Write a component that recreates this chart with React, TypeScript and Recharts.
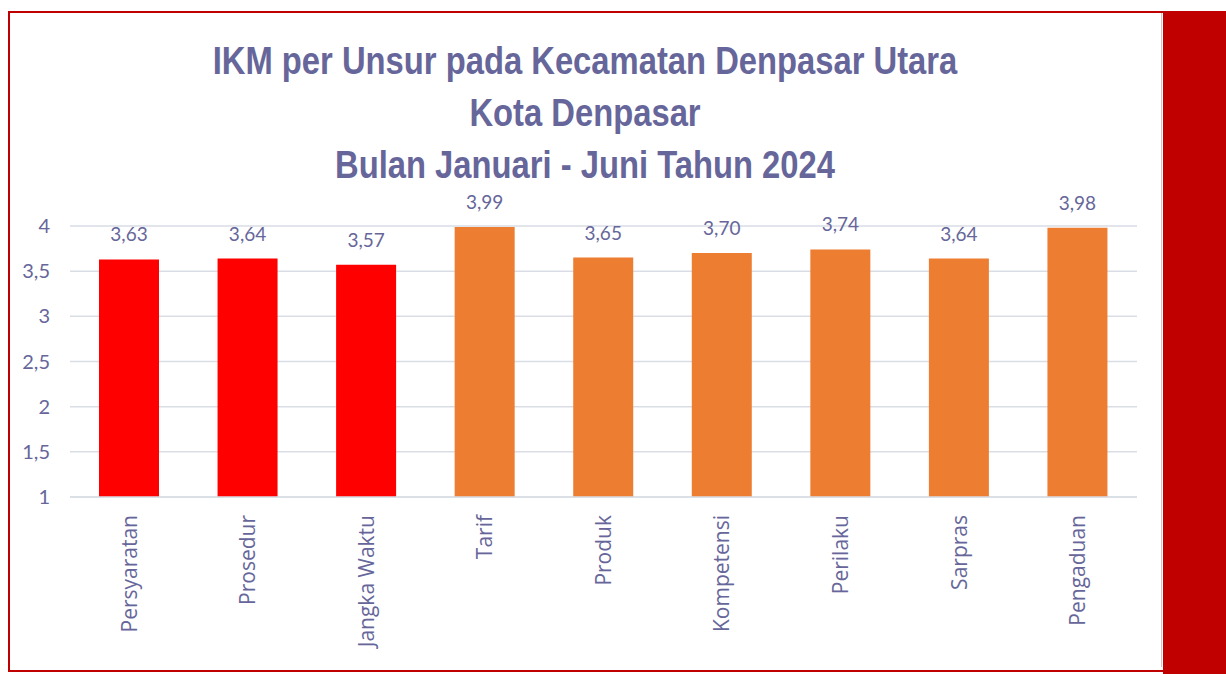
import { BarChart, Bar, XAxis, YAxis, CartesianGrid, LabelList, Cell } from "recharts";

const categories = [
  "Persyaratan",
  "Prosedur",
  "Jangka Waktu",
  "Tarif",
  "Produk",
  "Kompetensi",
  "Perilaku",
  "Sarpras",
  "Pengaduan",
];
const values = [3.63, 3.64, 3.57, 3.99, 3.65, 3.7, 3.74, 3.64, 3.98];
const barColors = ["#FF0000", "#FF0000", "#FF0000", "#ED7D31", "#ED7D31", "#ED7D31", "#ED7D31", "#ED7D31", "#ED7D31"];
const yTicks = [1, 1.5, 2, 2.5, 3, 3.5, 4];
const titleLines = [
  "IKM per Unsur pada Kecamatan Denpasar Utara",
  "Kota Denpasar",
  "Bulan Januari - Juni Tahun 2024",
];

const data = categories.map((name, i) => ({ name, value: values[i] }));

const textColor = "#66669A";
const font = "Lato, 'Open Sans', sans-serif";

const comma = (v: number, digits?: number) =>
  (digits === undefined ? String(v) : v.toFixed(digits)).replace(".", ",");

const CategoryTick = (props: any) => {
  const { x, y, payload } = props;
  return (
    <g transform={`translate(${x},${y + 10})`}>
      <text
        transform="rotate(-90)"
        textAnchor="end"
        dy="0.35em"
        fill={textColor}
        fontSize={21}
        fontFamily="'Open Sans', sans-serif"
      >
        {payload.value}
      </text>
    </g>
  );
};

export default function App() {
  return (
    <div style={{ position: "absolute", left: 0, top: 0, width: 1226, height: 674, background: "#fff" }}>
      <div
        style={{
          position: "absolute",
          left: 8,
          top: 11,
          width: 1214,
          height: 657,
          border: "2px solid #C00000",
        }}
      />
      <div
        style={{
          position: "absolute",
          left: 1161,
          top: 13,
          width: 1,
          height: 654,
          background: "#C8C8C8",
        }}
      />
      <div
        style={{
          position: "absolute",
          left: 1163,
          top: 11,
          width: 63,
          height: 663,
          background: "#C00000",
        }}
      />
      <div
        style={{
          position: "absolute",
          left: 0,
          top: 35,
          width: 1170,
          textAlign: "center",
          color: textColor,
          fontFamily: "'Liberation Sans', sans-serif",
          fontWeight: "bold",
          fontSize: 39,
          lineHeight: "52px",
          transform: "scaleX(0.84)",
          transformOrigin: "585px 0",
        }}
      >
        {titleLines.map((t) => (
          <div key={t}>{t}</div>
        ))}
      </div>
      <div style={{ position: "absolute", left: 0, top: 0 }}>
        <BarChart
          width={1160}
          height={670}
          data={data}
          margin={{ top: 226, right: 23, bottom: 143, left: 0 }}
          barCategoryGap={0}
        >
          <CartesianGrid vertical={false} stroke="#D9DEE6" strokeWidth={1.5} />
          <XAxis
            dataKey="name"
            interval={0}
            height={30}
            axisLine={{ stroke: "#D9DEE6", strokeWidth: 1.5 }}
            tickLine={false}
            tick={<CategoryTick />}
          />
          <YAxis
            width={70}
            domain={[1, 4]}
            ticks={yTicks}
            allowDataOverflow
            axisLine={false}
            tickLine={false}
            tickSize={0}
            tickMargin={20}
            tickFormatter={(v: number) => comma(v)}
            tick={{ fill: textColor, fontSize: 20, fontFamily: font }}
          />
          <Bar dataKey="value" barSize={60} isAnimationActive={false}>
            {data.map((d, i) => (
              <Cell key={d.name} fill={barColors[i]} />
            ))}
            <LabelList
              dataKey="value"
              position="top"
              offset={18}
              formatter={(v: any) => comma(Number(v), 2)}
              fill={textColor}
              fontSize={19}
              fontFamily={font}
            />
          </Bar>
        </BarChart>
      </div>
    </div>
  );
}
